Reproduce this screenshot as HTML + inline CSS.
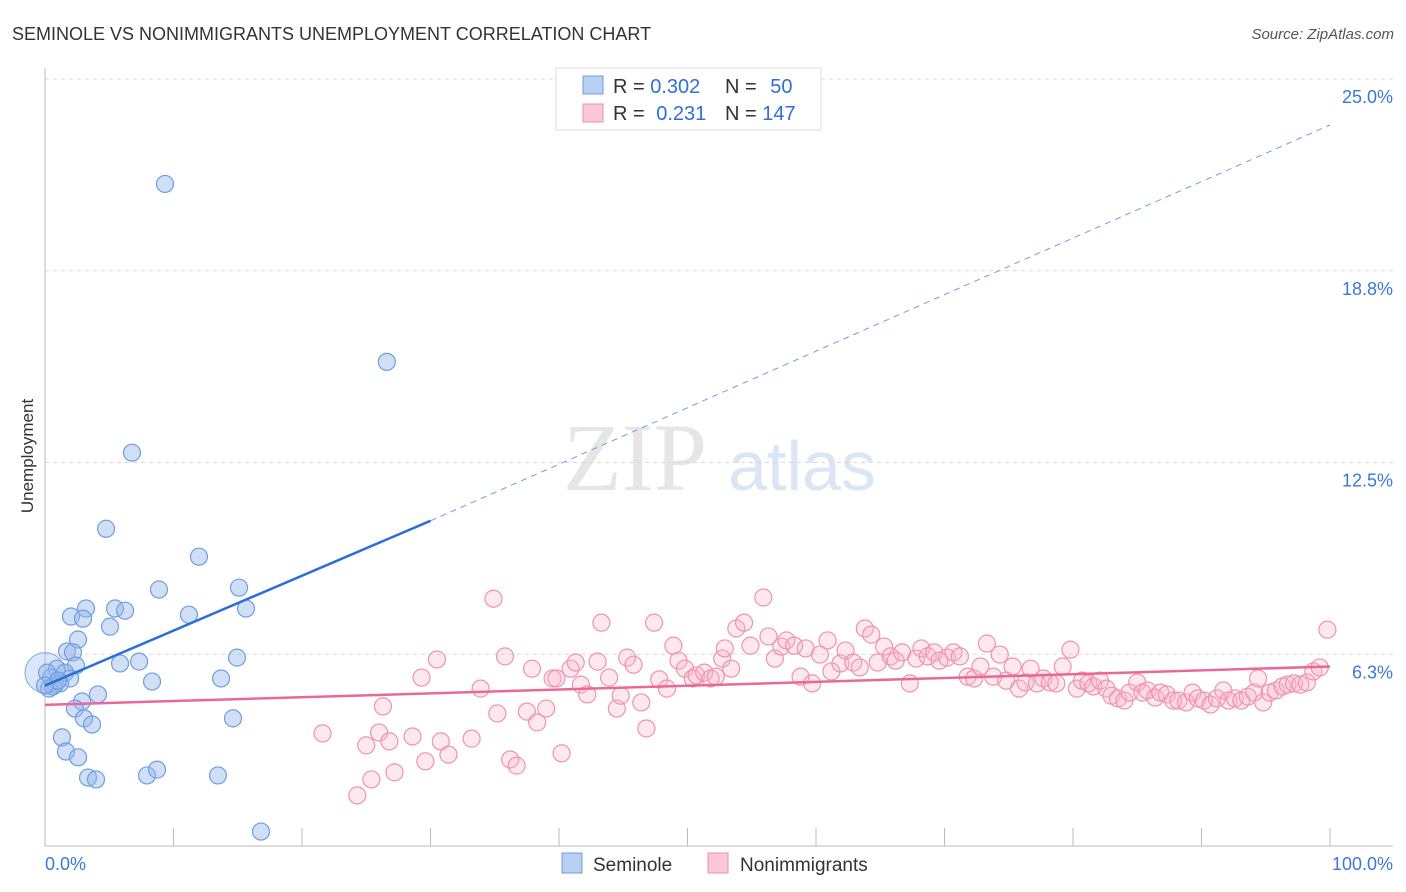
<!DOCTYPE html>
<html><head><meta charset="utf-8">
<style>
body{margin:0;background:#fff;font-family:"Liberation Sans",sans-serif;}
#wrap{position:relative;width:1406px;height:892px;overflow:hidden;}
</style></head>
<body>
<div id="wrap">
<svg id="chart" width="1406" height="892">
  <text x="12" y="40" font-size="18" fill="#333">SEMINOLE VS NONIMMIGRANTS UNEMPLOYMENT CORRELATION CHART</text>
  <text x="1394" y="39" font-size="15" fill="#555" font-style="italic" text-anchor="end">Source: ZipAtlas.com</text>
  <text x="33" y="456" font-size="17" fill="#333" text-anchor="middle" transform="rotate(-90 33 456)">Unemployment</text>
  <g>
    <text x="635" y="490" font-size="96" fill="#e6e6e6" font-family="Liberation Serif,serif" text-anchor="middle">ZIP</text>
    <text x="802" y="490" font-size="70" fill="#dbe6f5" text-anchor="middle">atlas</text>
  </g>
  <g id="grid"></g>
  <g id="marks"></g>
  <g>
    <rect x="556" y="68" width="265" height="62" fill="#fff" stroke="#ddd"/>
    <rect x="583" y="76" width="20" height="18" fill="#b8d0f2" stroke="#6f9ee0"/>
    <rect x="583" y="104" width="20" height="18" fill="#fbc6d6" stroke="#ee8fac"/>
    <text x="613" y="93" font-size="20" fill="#333">R = <tspan fill="#2f6fd6">0.302</tspan></text>
    <text x="725" y="93" font-size="20" fill="#333">N = <tspan fill="#2f6fd6" dx="8">50</tspan></text>
    <text x="613" y="120" font-size="20" fill="#333">R = <tspan fill="#2f6fd6" dx="6">0.231</tspan></text>
    <text x="725" y="120" font-size="20" fill="#333">N = <tspan fill="#2f6fd6">147</tspan></text>
  </g>
  <g>
    <rect x="562" y="853" width="20" height="20" fill="#b8d0f2" stroke="#6f9ee0"/>
    <text x="593" y="871" font-size="19" fill="#333">Seminole</text>
    <rect x="708" y="853" width="20" height="20" fill="#fbc6d6" stroke="#ee8fac"/>
    <text x="740" y="871" font-size="19" fill="#333">Nonimmigrants</text>
  </g>
  <text x="45" y="870" font-size="18" fill="#3b78d8">0.0%</text>
  <text x="1393" y="870" font-size="18" fill="#3b78d8" text-anchor="end">100.0%</text>
</svg>
</div>
<script>
const yTicks=[25,18.75,12.5,6.25];
const yTickLabels=["25.0%","18.8%","12.5%","6.3%"];
const xTicks=[0,10,20,30,40,50,60,70,80,90,100];
const blueX=[9.34,26.6,6.77,4.75,11.98,8.87,15.1,2.02,3.19,2.96,5.45,6.23,11.2,15.64,5.06,2.57,1.71,2.18,14.94,7.32,5.84,2.41,0.93,1.56,0.47,1.95,8.33,13.7,0.78,1.17,0.31,4.12,2.88,2.33,3.04,3.66,14.63,1.32,1.63,2.57,3.35,3.97,7.94,8.72,13.46,16.81,0.16,0.62,1.01,0];
const blueY=[21.58,15.78,12.82,10.34,9.43,8.36,8.42,7.48,7.74,7.41,7.74,7.67,7.54,7.74,7.15,6.73,6.34,6.31,6.14,6.01,5.95,5.88,5.78,5.65,5.49,5.46,5.36,5.46,5.26,5.30,5.13,4.94,4.71,4.48,4.16,3.96,4.16,3.54,3.08,2.89,2.23,2.17,2.30,2.49,2.30,0.47,5.65,5.20,5.39,5.23];
const pinkX=[21.6,24.3,25.4,25.0,26.0,26.3,26.8,27.2,28.6,29.3,29.6,30.5,30.8,31.4,33.2,33.9,34.9,35.2,35.8,36.2,36.7,37.5,37.9,38.3,39.0,39.5,39.8,40.2,40.9,41.3,41.7,42.2,43.0,43.3,43.9,44.5,44.8,45.3,45.8,46.4,46.8,47.4,47.8,48.4,48.9,49.3,49.8,50.4,50.7,51.3,51.8,52.2,52.7,52.9,53.4,53.8,54.4,54.9,55.9,56.3,56.8,57.3,57.7,58.3,58.8,59.2,59.7,60.3,60.9,61.2,61.9,62.3,62.9,63.4,63.8,64.3,64.8,65.3,65.8,66.2,66.7,67.3,67.8,68.2,68.7,69.2,69.6,70.2,70.7,71.2,71.8,72.3,72.8,73.3,73.8,74.3,74.8,75.3,75.8,76.3,76.7,77.2,77.7,78.2,78.7,79.2,79.8,80.3,80.7,81.2,81.6,82.1,82.6,83.0,83.5,84.0,84.4,85.0,85.4,85.8,86.4,86.8,87.3,87.8,88.2,88.8,89.3,89.7,90.2,90.7,91.2,91.7,92.1,92.6,93.1,93.6,94.1,94.4,94.8,95.3,95.8,96.3,96.7,97.2,97.7,98.2,98.7,99.2,99.8];
const pinkY=[3.67,1.65,2.17,3.28,3.70,4.55,3.41,2.40,3.57,5.49,2.76,6.08,3.41,2.98,3.50,5.13,8.06,4.32,6.18,2.82,2.62,4.38,5.78,4.03,4.48,5.46,5.46,3.02,5.78,5.98,5.26,4.94,6.01,7.28,5.49,4.48,4.90,6.14,5.91,4.68,3.83,7.28,5.43,5.13,6.53,6.04,5.78,5.46,5.56,5.65,5.46,5.52,6.11,6.44,5.78,7.09,7.28,6.53,8.10,6.83,6.11,6.50,6.70,6.53,5.52,6.44,5.30,6.24,6.70,5.69,5.95,6.37,5.98,5.82,7.09,6.89,5.98,6.50,6.18,6.04,6.31,5.30,6.11,6.44,6.18,6.31,6.04,6.14,6.31,6.18,5.52,5.46,5.85,6.60,5.52,6.24,5.39,5.85,5.13,5.33,5.78,5.30,5.46,5.33,5.30,5.85,6.40,5.13,5.39,5.30,5.20,5.39,5.13,4.90,4.81,4.74,5.00,5.33,5.00,5.07,4.84,5.00,4.94,4.74,4.74,4.68,5.00,4.81,4.74,4.61,4.81,5.07,4.74,4.81,4.74,4.87,5.00,5.46,4.68,5.00,5.07,5.20,5.26,5.30,5.26,5.33,5.69,5.82,7.05];
const blueTrend=[[0,5.23],[30,10.6],[100,23.5]];
const pinkTrend=[[0,4.6],[100,5.85]];

const NS="http://www.w3.org/2000/svg";
const X0=45,X1=1330,Y0=846,PXY=30.68;
function xs(v){return X0+(X1-X0)*v/100;}
function ys(v){return Y0-v*PXY;}
function mk(tag,attrs,parent){const e=document.createElementNS(NS,tag);for(const k in attrs)e.setAttribute(k,attrs[k]);parent.appendChild(e);return e;}
const grid=document.getElementById('grid'),marks=document.getElementById('marks'),svg=document.getElementById('chart');
yTicks.forEach((t,i)=>{
  const l=mk('line',{x1:45,x2:1393,y1:ys(t),y2:ys(t),stroke:'#d8d8d8','stroke-dasharray':'4 4'},grid);
  
  
  const tx=mk('text',{x:1393,y:ys(t)+24,'font-size':18,fill:'#3b78d8','text-anchor':'end'},grid);
  tx.textContent=yTickLabels[i];
  
  
});
const ax=mk('line',{x1:45,x2:1393,y1:Y0,y2:Y0,stroke:'#bbb'},grid);


const ay=mk('line',{x1:45,x2:45,y1:68,y2:Y0,stroke:'#bbb'},grid);


xTicks.forEach(t=>{
  const l=mk('line',{x1:xs(t),x2:xs(t),y1:Y0-18,y2:Y0,stroke:'#bbb'},grid);
  
  
});
// big overlapping cluster circle at origin
const big=mk('circle',{cx:xs(0),cy:ys(5.65),r:20,fill:'rgba(150,185,235,0.35)',stroke:'#7fa8e4'},marks);


pinkX.forEach((v,i)=>{
  const c=mk('circle',{cx:xs(v),cy:ys(pinkY[i]),r:8.5,fill:'rgba(248,180,202,0.3)',stroke:'#ef93b0','stroke-width':1.2},marks);
  
  
});
blueX.forEach((v,i)=>{
  const c=mk('circle',{cx:xs(v),cy:ys(blueY[i]),r:8.5,fill:'rgba(150,185,235,0.45)',stroke:'#6f9ee0','stroke-width':1.2},marks);
  
  
});
const bs=mk('line',{x1:xs(blueTrend[0][0]),y1:ys(blueTrend[0][1]),x2:xs(blueTrend[1][0]),y2:ys(blueTrend[1][1]),stroke:'#2a6fd6','stroke-width':2.5},marks);


const bd=mk('line',{x1:xs(blueTrend[1][0]),y1:ys(blueTrend[1][1]),x2:xs(blueTrend[2][0]),y2:ys(blueTrend[2][1]),stroke:'#6f9ee0','stroke-width':1,'stroke-dasharray':'6 5'},marks);


const pt=mk('line',{x1:xs(pinkTrend[0][0]),y1:ys(pinkTrend[0][1]),x2:xs(pinkTrend[1][0]),y2:ys(pinkTrend[1][1]),stroke:'#e8689a','stroke-width':2.5},marks);


</script>
</body></html>
